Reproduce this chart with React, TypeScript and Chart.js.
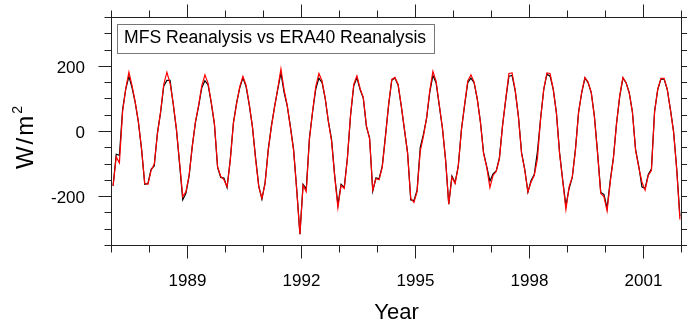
import React, { useEffect, useRef } from 'react';
import { Chart, registerables } from 'chart.js';

Chart.register(...registerables);

// ---- data (monthly net heat flux, W/m^2), Jan 1987 .. Dec 2001 ----
const START_YEAR = 1987;
const END_YEAR = 2002;

const mfsFlux: number[] = [
  -167, -70, -73, 67, 130, 169, 134, 88, 28, -55, -162, -160, // 1987
  -116, -106, -4, 58, 140, 157, 157, 83, 6, -100, -210, -190, // 1988
  -137, -45, 27, 77, 134, 156, 143, 88, 22, -110, -141, -143, // 1989
  -172, -86, 27, 88, 134, 165, 138, 82, 15, -80, -167, -208, // 1990
  -157, -55, 17, 77, 129, 180, 120, 78, 15, -55, -178, -315, // 1991
  -162, -177, -20, 60, 130, 164, 150, 100, 30, -25, -137, -225, // 1992
  -162, -172, -80, 50, 140, 165, 129, 103, 15, -20, -183, -142, // 1993
  -145, -106, -14, 80, 157, 164, 143, 78, 6, -65, -210, -212, // 1994
  -180, -49, -9, 40, 120, 172, 150, 80, 10, -86, -223, -137, // 1995
  -157, -106, 6, 80, 150, 164, 150, 100, 30, -65, -108, -152, // 1996
  -130, -121, -80, 20, 98, 170, 172, 124, 47, -65, -116, -186, // 1997
  -150, -132, -62, 40, 129, 176, 170, 129, 58, -65, -150, -228, // 1998
  -175, -142, -55, 60, 119, 164, 150, 119, 47, -65, -187, -193, // 1999
  -235, -150, -80, 27, 108, 164, 150, 119, 60, -55, -106, -170, // 2000
  -175, -132, -115, 62, 129, 161, 161, 129, 68, 0, -116, -260, // 2001
];

const era40Flux: number[] = [
  -167, -78, -96, 60, 132, 182, 140, 90, 30, -55, -160, -162, // 1987
  -120, -100, -8, 60, 145, 182, 148, 86, 8, -95, -200, -185, // 1988
  -135, -48, 30, 80, 140, 174, 148, 90, 25, -108, -138, -148, // 1989
  -170, -90, 25, 85, 138, 169, 142, 84, 15, -85, -170, -205, // 1990
  -160, -58, 15, 75, 132, 192, 128, 80, 12, -58, -182, -315, // 1991
  -165, -185, -25, 62, 138, 178, 155, 102, 30, -30, -140, -234, // 1992
  -165, -175, -82, 52, 145, 171, 132, 105, 18, -22, -180, -145, // 1993
  -148, -110, -18, 82, 160, 166, 145, 80, 8, -68, -205, -218, // 1994
  -185, -60, -15, 42, 125, 185, 155, 82, 12, -88, -223, -140, // 1995
  -160, -108, 4, 82, 155, 174, 152, 100, 28, -68, -110, -172, // 1996
  -135, -122, -84, 18, 100, 178, 180, 126, 45, -68, -118, -186, // 1997
  -155, -135, -84, 38, 130, 180, 178, 130, 56, -68, -152, -239, // 1998
  -170, -140, -58, 58, 122, 166, 152, 120, 45, -68, -190, -200, // 1999
  -244, -155, -82, 25, 110, 166, 150, 118, 60, -58, -110, -155, // 2000
  -180, -135, -120, 60, 130, 163, 163, 130, 66, -2, -118, -270, // 2001
];

const xTickLabels = ['1989', '1992', '1995', '1998', '2001'];
const yTickLabels = ['-200', '0', '200'];
const Y_MIN = -350;
const Y_MAX = 350;
const Y_MINOR_STEP = 50;
const titleText = 'MFS Reanalysis vs ERA40 Reanalysis';
const xTitle = 'Year';
const yTitleBase = 'W/m';
const yTitleSup = '2';

const FONT = '"Liberation Sans", Arial, Helvetica, sans-serif';

const monthTimes = mfsFlux.map((_, i) => START_YEAR + (i + 0.5) / 12);

const nclFrame = {
  id: 'nclFrame',
  afterDraw(chart: any) {
    const { ctx, chartArea: a, scales } = chart;
    const xs = scales.x;
    const ys = scales.y;
    const snap = (v: number) => Math.floor(v) + 0.5;
    const MAJ = 13;
    const MIN = 7;
    ctx.save();
    ctx.strokeStyle = '#222';
    ctx.lineWidth = 1;
    ctx.strokeRect(a.left, a.top, a.right - a.left, a.bottom - a.top);

    ctx.beginPath();
    // x ticks (top & bottom, outward)
    for (let yr = START_YEAR; yr <= END_YEAR; yr++) {
      const px = snap(xs.getPixelForValue(yr));
      const len = xTickLabels.includes(String(yr)) ? MAJ : MIN;
      ctx.moveTo(px, a.bottom);
      ctx.lineTo(px, a.bottom + len);
      ctx.moveTo(px, a.top);
      ctx.lineTo(px, a.top - len);
    }
    // y ticks (left & right, outward)
    for (let v = Y_MIN; v <= Y_MAX; v += Y_MINOR_STEP) {
      const py = snap(ys.getPixelForValue(v));
      const len = yTickLabels.includes(String(v)) ? MAJ : MIN;
      ctx.moveTo(a.left, py);
      ctx.lineTo(a.left - len, py);
      ctx.moveTo(a.right, py);
      ctx.lineTo(a.right + len, py);
    }
    ctx.stroke();

    ctx.fillStyle = '#000';
    // x tick labels
    ctx.font = `17px ${FONT}`;
    ctx.textAlign = 'center';
    ctx.textBaseline = 'alphabetic';
    xTickLabels.forEach((lab) => {
      const px = xs.getPixelForValue(Number(lab));
      ctx.fillText(lab, px, a.bottom + 40.5);
    });
    // y tick labels
    ctx.textAlign = 'right';
    yTickLabels.forEach((lab) => {
      const py = ys.getPixelForValue(Number(lab));
      ctx.fillText(lab, a.left - 26.5, py + 6.2);
    });

    // x title
    ctx.font = `22px ${FONT}`;
    ctx.textAlign = 'center';
    ctx.fillText(xTitle, (a.left + a.right) / 2, a.bottom + 73);

    // y title (rotated, with superscript)
    ctx.save();
    ctx.translate(33, (a.top + a.bottom) / 2 + 5);
    ctx.rotate(-Math.PI / 2);
    ctx.font = `24px ${FONT}`;
    (ctx as any).letterSpacing = '2px';
    const w1 = ctx.measureText(yTitleBase).width;
    ctx.font = `14px ${FONT}`;
    const w2 = ctx.measureText(yTitleSup).width;
    const start = -(w1 + w2) / 2;
    ctx.textAlign = 'left';
    ctx.font = `24px ${FONT}`;
    ctx.fillText(yTitleBase, start, 0);
    ctx.font = `14px ${FONT}`;
    ctx.fillText(yTitleSup, start + w1, -11);
    ctx.restore();

    // title box
    ctx.fillStyle = '#fff';
    ctx.fillRect(117.5, 24.5, 317, 29);
    ctx.strokeStyle = '#777';
    ctx.strokeRect(117.5, 24.5, 317, 29);
    ctx.fillStyle = '#000';
    ctx.textAlign = 'left';
    ctx.font = `17.6px ${FONT}`;
    ctx.fillText(titleText, 124, 43.3);
    ctx.restore();
  },
};

export default function App() {
  const canvasRef = useRef<HTMLCanvasElement | null>(null);

  useEffect(() => {
    const canvas = canvasRef.current;
    if (!canvas) return;
    const chart = new Chart(canvas, {
      type: 'line',
      data: {
        datasets: [
          {
            label: 'ERA40 Reanalysis',
            data: era40Flux.map((v, i) => ({ x: monthTimes[i], y: v })),
            borderColor: '#ff0000',
            borderWidth: 1.2,
            pointRadius: 0,
            tension: 0,
            fill: false,
          },
          {
            label: 'MFS Reanalysis',
            data: mfsFlux.map((v, i) => ({ x: monthTimes[i], y: v })),
            borderColor: '#000000',
            borderWidth: 1.2,
            pointRadius: 0,
            tension: 0,
            fill: false,
          },
        ],
      },
      options: {
        animation: false,
        responsive: false,
        devicePixelRatio: 1,
        parsing: true,
        layout: { padding: { left: 111.5, right: 5.5, top: 17.5, bottom: 79.5 } },
        plugins: {
          legend: { display: false },
          tooltip: { enabled: false },
          title: { display: false },
        },
        scales: {
          x: { type: 'linear', min: START_YEAR, max: END_YEAR, display: false },
          y: { type: 'linear', min: Y_MIN, max: Y_MAX, display: false },
        },
      },
      plugins: [nclFrame],
    });
    return () => chart.destroy();
  }, []);

  return (
    <div style={{ position: 'absolute', left: 0, top: 0, width: 687, height: 325, background: '#fff' }}>
      <canvas ref={canvasRef} width={687} height={325} style={{ display: 'block' }} />
    </div>
  );
}
